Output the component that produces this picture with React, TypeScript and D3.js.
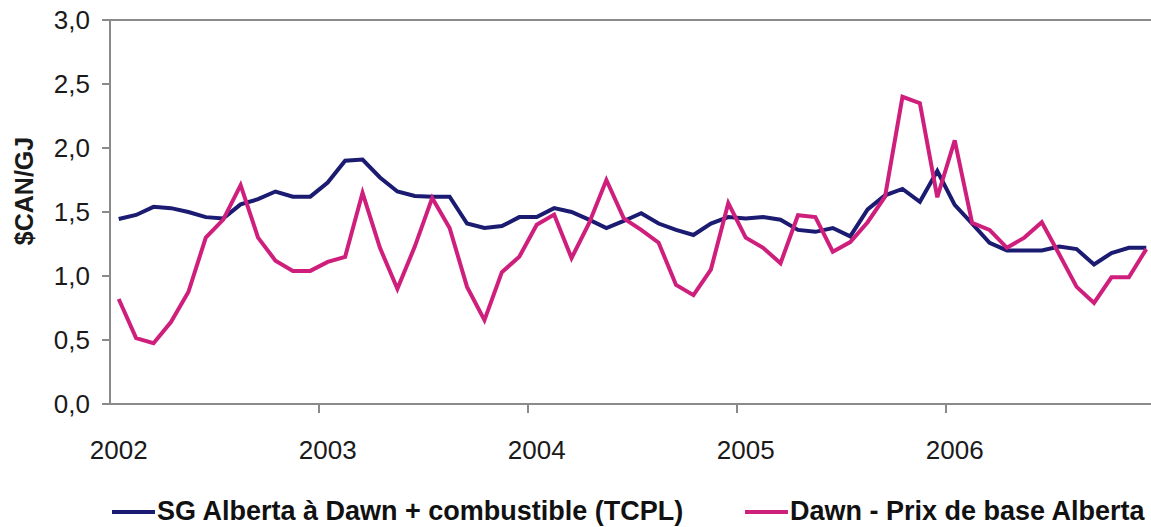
import React from "react";
import * as d3 from "d3";

// Monthly spreads, January 2002 to December 2006 ($CAN/GJ)
const months: number[] = d3.range(60);
const yearLabels: string[] = ["2002", "2003", "2004", "2005", "2006"];
const yTicks: number[] = [0, 0.5, 1, 1.5, 2, 2.5, 3];

const sgAlbertaDawn: number[] = [
  1.445, 1.477, 1.54, 1.53, 1.5, 1.46, 1.45, 1.56, 1.6, 1.66, 1.62, 1.62,
  1.73, 1.9, 1.91, 1.77, 1.66, 1.625, 1.62, 1.62, 1.41, 1.375, 1.39, 1.46,
  1.46, 1.53, 1.5, 1.44, 1.375, 1.43, 1.49, 1.41, 1.36, 1.32, 1.41, 1.46,
  1.45, 1.46, 1.44, 1.36, 1.345, 1.375, 1.31, 1.52, 1.63, 1.68, 1.58, 1.82,
  1.555, 1.41, 1.26, 1.2, 1.2, 1.2, 1.23, 1.21, 1.09, 1.18, 1.22, 1.22,
];

const dawnAlbertaBasis: number[] = [
  0.82, 0.515, 0.475, 0.64, 0.875, 1.3, 1.44, 1.71, 1.3, 1.12, 1.04, 1.04,
  1.11, 1.15, 1.65, 1.22, 0.9, 1.23, 1.61, 1.375, 0.915, 0.655, 1.03, 1.15,
  1.4, 1.48, 1.14, 1.41, 1.75, 1.45, 1.36, 1.26, 0.93, 0.85, 1.05, 1.57,
  1.3, 1.22, 1.1, 1.475, 1.46, 1.19, 1.265, 1.42, 1.62, 2.4, 2.35, 1.615,
  2.06, 1.415, 1.36, 1.22, 1.3, 1.42, 1.17, 0.915, 0.79, 0.99, 0.99, 1.21,
];

const seriesNames: string[] = [
  "SG Alberta à Dawn + combustible (TCPL)",
  "Dawn - Prix de base Alberta",
];
const seriesColors: string[] = ["#1b1b72", "#cf1f7c"];

const W = 1151;
const H = 527;
const left = 110;
const right = 1155;
const top = 20;
const bottom = 404;

const FONT = "'Liberation Sans', Arial, sans-serif";
const AXIS = "#8a8a8a";

export default function App() {
  const x = d3.scaleBand<number>().domain(months).range([left, right]).paddingInner(0).paddingOuter(0);
  const bw = x.bandwidth();
  const y = d3.scaleLinear().domain([0, 3]).range([bottom, top]);

  const line = d3
    .line<number>()
    .x((_, i) => (x(i) as number) + bw / 2)
    .y((v) => y(v));

  const series = [sgAlbertaDawn, dawnAlbertaBasis];

  return (
    <svg
      width={W}
      height={H}
      style={{ position: "absolute", left: 0, top: 0, background: "#fff" }}
      fontFamily={FONT}
    >
      <rect x={0} y={0} width={W} height={H} fill="#fff" />

      {/* plot frame: top border and axes */}
      <line x1={left} x2={W} y1={top} y2={top} stroke={AXIS} strokeWidth={2} />
      <line x1={left} x2={left} y1={top} y2={bottom} stroke={AXIS} strokeWidth={2} />
      <line x1={left} x2={W} y1={bottom} y2={bottom} stroke={AXIS} strokeWidth={2} />

      {/* y axis ticks and labels */}
      {yTicks.map((t) => (
        <g key={t}>
          <line x1={left - 8} x2={left} y1={y(t)} y2={y(t)} stroke={AXIS} strokeWidth={2} />
          <text
            x={90}
            y={y(t)}
            textAnchor="end"
            dominantBaseline="central"
            fontSize={26}
            fill="#1a1a1a"
          >
            {d3.format(".1f")(t).replace(".", ",")}
          </text>
        </g>
      ))}

      {/* x axis: a tick at each January, label centred on the January slot */}
      {yearLabels.map((lab, k) => {
        const xt = x(k * 12) as number;
        return (
          <g key={lab}>
            {k > 0 && (
              <line x1={xt} x2={xt} y1={bottom} y2={bottom + 9} stroke={AXIS} strokeWidth={2} />
            )}
            <text x={xt + bw / 2} y={459} textAnchor="middle" fontSize={26} fill="#1a1a1a">
              {lab}
            </text>
          </g>
        );
      })}

      {/* y axis title */}
      <text
        transform={`translate(33, 191) rotate(-90)`}
        textAnchor="middle"
        fontSize={25}
        fontWeight="bold"
        fill="#1a1a1a"
      >
        $CAN/GJ
      </text>

      {/* series */}
      {series.map((s, i) => (
        <path
          key={i}
          d={line(s) as string}
          fill="none"
          stroke={seriesColors[i]}
          strokeWidth={4}
          strokeLinejoin="miter"
        />
      ))}

      {/* legend */}
      {[
        { lx: 112, tx: 157 },
        { lx: 745, tx: 790 },
      ].map((p, i) => (
        <g key={i}>
          <line x1={p.lx} x2={p.lx + 43} y1={512} y2={512} stroke={seriesColors[i]} strokeWidth={4} />
          <text x={p.tx} y={520} fontSize={27} fontWeight="bold" fill="#111">
            {seriesNames[i]}
          </text>
        </g>
      ))}
    </svg>
  );
}
